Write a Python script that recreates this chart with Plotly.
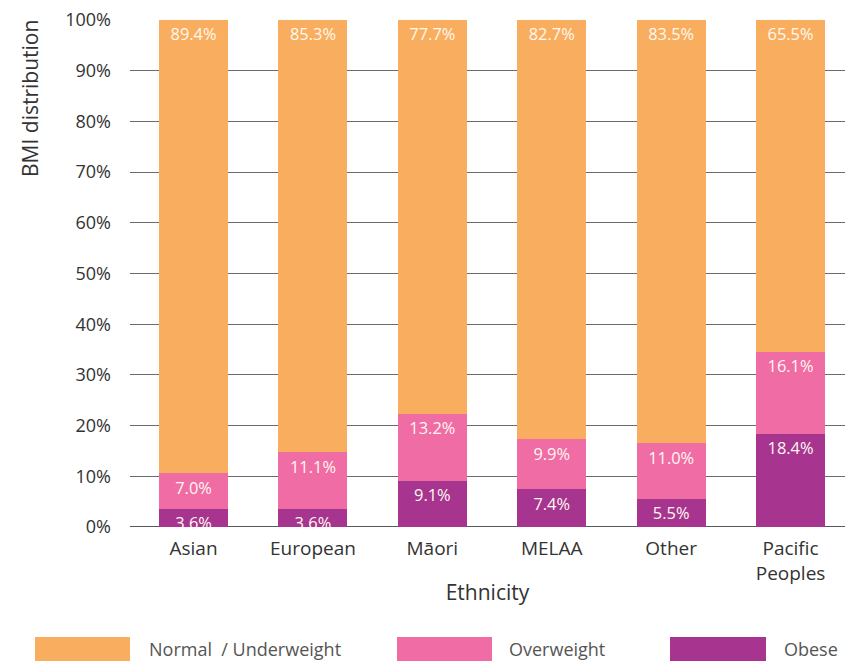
import plotly.graph_objects as go

categories = ["Asian", "European", "Māori", "MELAA", "Other", "Pacific<br>Peoples"]
obese = [3.6, 3.6, 9.1, 7.4, 5.5, 18.4]
overweight = [7.0, 11.1, 13.2, 9.9, 11.0, 16.1]
normal = [89.4, 85.3, 77.7, 82.7, 83.5, 65.5]
series_names = ["Normal \u00a0/ Underweight", "Overweight", "Obese"]
y_ticks = [0, 10, 20, 30, 40, 50, 60, 70, 80, 90, 100]
y_tick_labels = [f"{v}%" for v in y_ticks]

C_NORMAL = "#F9AE5F"
C_OVER = "#F06CA5"
C_OBESE = "#A7358F"
FONT = "Open Sans"

W, H = 847, 662
L, R, T, B = 130, 2, 20, 135

fig = go.Figure()
for vals, col, name in [(obese, C_OBESE, series_names[2]),
                        (overweight, C_OVER, series_names[1]),
                        (normal, C_NORMAL, series_names[0])]:
    fig.add_trace(go.Bar(
        x=categories, y=vals, name=name, marker=dict(color=col, line=dict(width=0)),
        width=0.578,
        text=[f"{v:.1f}%" for v in vals], textposition="inside",
        insidetextanchor="end", textangle=0,
        textfont=dict(color="#FFF8F0", size=18, family=FONT),
        cliponaxis=False, showlegend=False,
    ))

fig.update_layout(
    barmode="stack", width=W, height=H,
    margin=dict(l=L, r=R, t=T, b=B),
    plot_bgcolor="white", paper_bgcolor="white",
    font=dict(family=FONT, color="#333333", size=18),
    uniformtext=dict(minsize=10, mode="show"),
    xaxis=dict(range=[-0.532, 5.456], showgrid=False, ticks="",
               tickfont=dict(size=19, color="#333"), ticklabelstandoff=8,
               title=dict(text="Ethnicity", font=dict(size=21, color="#333"), standoff=0),
               showline=False, zeroline=False),
    yaxis=dict(range=[0, 100], tickvals=y_ticks, ticktext=y_tick_labels,
               showgrid=True, gridcolor="#6b6b6b", gridwidth=1.2,
               tickfont=dict(size=18, color="#333"), ticklabelstandoff=18,
               zeroline=False, showline=False, layer="below traces"),
)
fig.add_hline(y=0, line=dict(color="#222222", width=1.5), layer="below")

# y-axis title placed at top, as in reference
fig.add_annotation(text="BMI distribution", xref="paper", yref="paper",
                   x=(30 - L) / (W - L - R), y=1.005, xanchor="center", yanchor="top",
                   textangle=-90, showarrow=False, font=dict(size=21, color="#333"))

# Legend drawn as wide swatches
plot_w = W - L - R
plot_h = H - T - B
def px(xp):
    return (xp - L) / plot_w
def py(yp):
    return (H - B - yp) / plot_h

legend_items = [(C_NORMAL, series_names[0], 35, 130, 147),
                (C_OVER, series_names[1], 397, 492, 507),
                (C_OBESE, series_names[2], 670, 766, 782)]
for col, name, x0, x1, xt in legend_items:
    fig.add_shape(type="rect", xref="paper", yref="paper",
                  x0=px(x0), x1=px(x1), y0=py(661), y1=py(637),
                  fillcolor=col, line=dict(width=0))
    fig.add_annotation(text=name, xref="paper", yref="paper", x=px(xt), y=py(649),
                       xanchor="left", yanchor="middle", showarrow=False,
                       font=dict(size=18, color="#555555"))

fig.write_html("out.html", config={"displayModeBar": False},
               post_script="document.body.style.margin='0';document.body.style.overflow='hidden';")
